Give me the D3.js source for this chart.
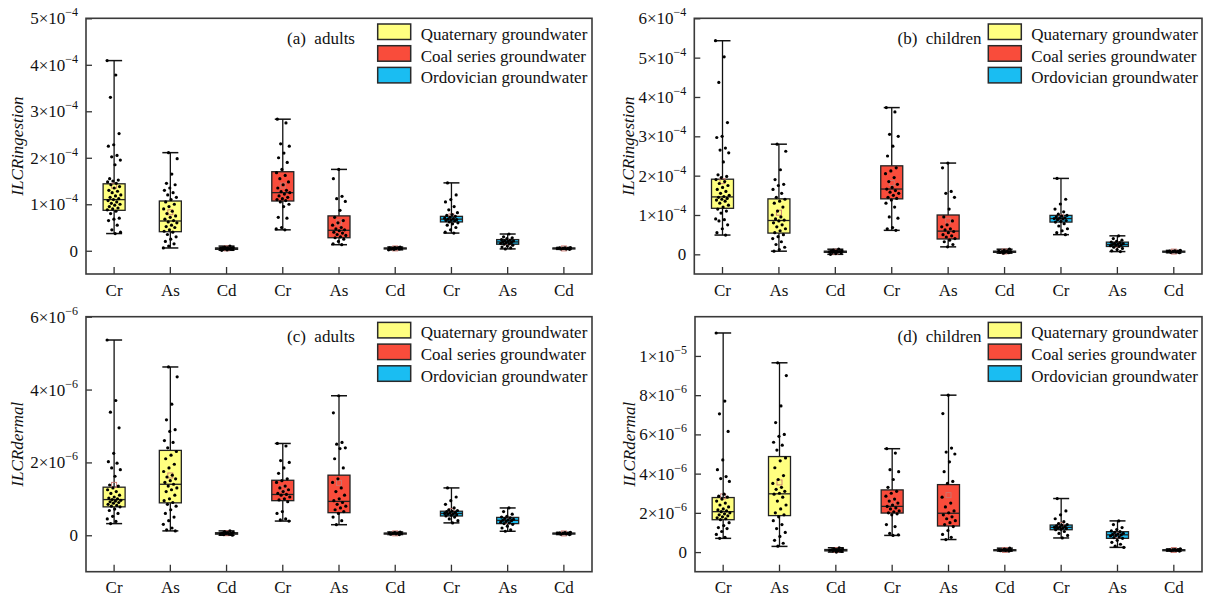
<!DOCTYPE html>
<html><head><meta charset="utf-8">
<script src="https://cdn.jsdelivr.net/npm/d3@7"></script>
<style>
html,body{margin:0;padding:0;background:#fff;}
text{font-family:"Liberation Serif","Times New Roman",serif;fill:#111;}
</style></head>
<body><svg id="chart" width="1209" height="597"></svg>
<script>
// ---------- shared data ----------
const categories = ["Cr","As","Cd","Cr","As","Cd","Cr","As","Cd"];
const groups = ["Quaternary groundwater","Coal series groundwater","Ordovician groundwater"];
const groupColors = ["#FFFF80","#F94C3B","#1ABDF2"];

// ---------- panel (a) adults ingestion, units 1e-4 ----------
const aUnit = 1e-4;
const aTicks = [0,1,2,3,4,5];
const aTickLabels = ["0","1×10^−4","2×10^−4","3×10^−4","4×10^−4","5×10^−4"];
const aDomain = [-0.5,5];
const aLow  = [0.37,0.06,0.01,0.45,0.13,0.02,0.38,0.04,0.03];
const aQ1   = [0.87,0.41,0.03,1.07,0.28,0.04,0.62,0.14,0.04];
const aMed  = [1.10,0.64,0.05,1.25,0.44,0.05,0.68,0.19,0.05];
const aQ3   = [1.44,1.07,0.06,1.70,0.75,0.06,0.74,0.24,0.06];
const aHigh = [4.09,2.11,0.10,2.83,1.75,0.08,1.46,0.36,0.07];
const aPoints = [
 [4.09,3.78,3.30,2.52,2.28,2.25,2.05,2.02,1.95,1.85,1.55,1.52,1.5,1.48,1.45,1.42,1.38,1.35,1.3,1.28,1.25,1.2,1.18,1.15,1.12,1.1,1.08,1.05,1.02,1.0,0.98,0.95,0.92,0.9,0.88,0.85,0.8,0.7,0.68,0.65,0.55,0.45,0.4,0.37],
 [2.11,1.98,1.65,1.45,1.42,1.35,1.3,1.25,1.2,1.15,1.1,1.05,1.0,0.95,0.9,0.85,0.8,0.75,0.72,0.68,0.65,0.62,0.6,0.55,0.52,0.5,0.45,0.42,0.4,0.35,0.3,0.25,0.2,0.15,0.1,0.06],
 [0.1,0.08,0.07,0.06,0.06,0.05,0.05,0.05,0.04,0.04,0.03,0.02,0.01],
 [2.83,2.75,2.3,2.25,2.1,2.0,1.9,1.75,1.68,1.62,1.55,1.48,1.42,1.35,1.3,1.27,1.25,1.22,1.18,1.15,1.12,1.1,1.08,1.05,1.0,0.95,0.72,0.7,0.5,0.47,0.45],
 [1.75,1.55,1.17,1.12,1.06,0.87,0.72,0.65,0.6,0.55,0.5,0.47,0.45,0.43,0.4,0.38,0.35,0.33,0.3,0.28,0.25,0.2,0.15,0.13],
 [0.08,0.07,0.06,0.06,0.05,0.05,0.05,0.04,0.04,0.03,0.02],
 [1.46,1.2,1.1,1.05,0.95,0.88,0.82,0.78,0.76,0.74,0.72,0.7,0.69,0.68,0.67,0.66,0.65,0.64,0.62,0.6,0.58,0.55,0.5,0.45,0.4,0.38],
 [0.36,0.3,0.28,0.26,0.24,0.23,0.22,0.21,0.2,0.19,0.18,0.17,0.16,0.15,0.14,0.12,0.1,0.08,0.06,0.04],
 [0.07,0.06,0.06,0.05,0.05,0.05,0.04,0.04,0.03]
];

// ---------- panel (b) children ingestion, units 1e-4 ----------
const bUnit = 1e-4;
const bTicks = [0,1,2,3,4,5,6];
const bTickLabels = ["0","1×10^−4","2×10^−4","3×10^−4","4×10^−4","5×10^−4","6×10^−4"];
const bDomain = [-0.5,6];
const bLow  = [0.49,0.08,0.00,0.61,0.19,0.03,0.50,0.07,0.04];
const bQ1   = [1.17,0.54,0.05,1.41,0.39,0.05,0.82,0.20,0.06];
const bMed  = [1.46,0.86,0.07,1.66,0.59,0.07,0.91,0.25,0.07];
const bQ3   = [1.91,1.41,0.08,2.25,1.00,0.08,0.99,0.31,0.08];
const bHigh = [5.43,2.80,0.13,3.73,2.32,0.13,1.93,0.47,0.10];
const bPoints = [
 [5.43,5.02,4.37,3.35,3.0,2.97,2.7,2.65,2.58,2.35,2.02,1.98,1.95,1.9,1.85,1.8,1.75,1.7,1.65,1.6,1.55,1.5,1.47,1.45,1.42,1.4,1.38,1.35,1.3,1.25,1.2,1.15,1.1,1.05,0.9,0.88,0.85,0.75,0.65,0.55,0.49],
 [2.80,2.62,2.15,1.9,1.78,1.75,1.65,1.55,1.45,1.4,1.35,1.3,1.2,1.1,1.0,0.95,0.9,0.87,0.85,0.8,0.75,0.7,0.65,0.6,0.55,0.5,0.45,0.4,0.32,0.25,0.18,0.12,0.08],
 [0.13,0.11,0.09,0.08,0.08,0.07,0.07,0.06,0.06,0.05,0.04,0.02,0.0],
 [3.73,3.62,3.05,3.0,2.75,2.5,2.2,2.12,2.05,1.95,1.85,1.78,1.7,1.66,1.62,1.58,1.55,1.5,1.45,1.42,1.38,1.3,1.2,0.95,0.92,0.68,0.65,0.61],
 [2.32,2.2,1.6,1.55,1.45,1.15,0.95,0.85,0.75,0.7,0.65,0.62,0.58,0.55,0.5,0.47,0.44,0.4,0.36,0.32,0.25,0.19],
 [0.13,0.1,0.08,0.08,0.07,0.07,0.06,0.05,0.04,0.03],
 [1.93,1.4,1.28,1.15,1.08,1.02,0.99,0.97,0.95,0.93,0.92,0.91,0.9,0.88,0.86,0.84,0.82,0.78,0.72,0.65,0.6,0.55,0.5],
 [0.47,0.4,0.36,0.33,0.31,0.3,0.28,0.27,0.26,0.25,0.24,0.23,0.22,0.2,0.18,0.15,0.12,0.09,0.07],
 [0.1,0.09,0.08,0.07,0.07,0.07,0.06,0.05,0.04]
];

// ---------- panel (c) adults dermal, units 1e-6 ----------
const cUnit = 1e-6;
const cTicks = [0,2,4,6];
const cTickLabels = ["0","2×10^−6","4×10^−6","6×10^−6"];
const cDomain = [-1,6];
const cLow  = [0.32,0.12,0.00,0.39,0.29,0.02,0.34,0.11,0.02];
const cQ1   = [0.78,0.89,0.03,0.95,0.62,0.04,0.53,0.32,0.04];
const cMed  = [0.98,1.40,0.05,1.12,0.93,0.05,0.60,0.41,0.05];
const cQ3   = [1.32,2.33,0.07,1.51,1.65,0.06,0.66,0.49,0.06];
const cHigh = [5.36,4.62,0.12,2.52,3.83,0.09,1.30,0.75,0.08];
const cPoints = [
 [5.36,3.7,3.38,2.95,2.25,2.02,1.98,1.85,1.8,1.62,1.38,1.35,1.3,1.25,1.2,1.15,1.1,1.05,1.02,1.0,0.98,0.96,0.94,0.92,0.9,0.88,0.85,0.82,0.8,0.78,0.72,0.68,0.6,0.52,0.45,0.38,0.32],
 [4.62,4.35,3.6,3.17,2.9,2.85,2.6,2.55,2.4,2.3,2.2,2.1,1.95,1.85,1.75,1.65,1.6,1.55,1.5,1.45,1.4,1.35,1.3,1.25,1.2,1.1,1.0,0.95,0.9,0.85,0.8,0.7,0.6,0.5,0.4,0.3,0.2,0.15,0.12],
 [0.12,0.1,0.08,0.07,0.06,0.05,0.05,0.04,0.03,0.02,0.0],
 [2.52,2.45,2.05,2.0,1.85,1.7,1.55,1.5,1.45,1.35,1.3,1.25,1.2,1.15,1.12,1.1,1.05,1.0,0.97,0.92,0.65,0.6,0.45,0.42,0.39],
 [3.83,3.36,2.55,2.5,2.4,2.38,2.1,1.85,1.55,1.45,1.3,1.2,1.1,1.0,0.95,0.9,0.85,0.8,0.75,0.7,0.65,0.6,0.5,0.4,0.29],
 [0.09,0.07,0.06,0.06,0.05,0.05,0.04,0.03,0.02],
 [1.3,1.05,0.95,0.85,0.75,0.7,0.68,0.66,0.65,0.63,0.62,0.6,0.59,0.58,0.56,0.55,0.53,0.5,0.45,0.4,0.34],
 [0.75,0.65,0.58,0.52,0.5,0.48,0.46,0.44,0.42,0.41,0.4,0.38,0.36,0.34,0.32,0.3,0.25,0.2,0.15,0.11],
 [0.08,0.07,0.06,0.05,0.05,0.05,0.04,0.03,0.02]
];

// ---------- panel (d) children dermal, units 1e-6 ----------
const dUnit = 1e-6;
const dTicks = [0,2,4,6,8,10];
const dTickLabels = ["0","2×10^−6","4×10^−6","6×10^−6","8×10^−6","1×10^−5"];
const dDomain = [-1,12];
const dLow  = [0.70,0.29,0.00,0.85,0.64,0.05,0.72,0.24,0.05];
const dQ1   = [1.65,1.86,0.06,1.99,1.33,0.08,1.14,0.70,0.08];
const dMed  = [2.06,2.97,0.10,2.33,1.98,0.10,1.26,0.88,0.10];
const dQ3   = [2.78,4.87,0.13,3.17,3.44,0.12,1.38,1.04,0.12];
const dHigh = [11.17,9.65,0.22,5.27,8.00,0.20,2.73,1.59,0.16];
const dPoints = [
 [11.17,7.7,7.05,6.15,4.7,4.2,3.85,3.75,3.6,2.95,2.85,2.8,2.7,2.6,2.5,2.4,2.3,2.2,2.15,2.1,2.06,2.0,1.95,1.9,1.85,1.8,1.75,1.7,1.65,1.5,1.35,1.25,1.2,1.05,0.9,0.75,0.7],
 [9.65,9.0,7.45,6.6,6.0,5.9,5.6,5.45,5.2,4.8,4.65,4.3,3.9,3.7,3.5,3.3,3.2,3.1,3.0,2.95,2.8,2.6,2.4,2.2,2.0,1.9,1.8,1.6,1.4,1.2,1.0,0.8,0.6,0.45,0.3],
 [0.22,0.18,0.15,0.13,0.12,0.1,0.1,0.09,0.07,0.05,0.03,0.0],
 [5.27,5.05,4.2,4.1,3.7,3.3,3.1,3.0,2.85,2.7,2.6,2.5,2.4,2.33,2.25,2.2,2.1,2.05,2.0,1.95,1.9,1.4,1.3,0.95,0.88,0.85],
 [8.0,7.06,5.3,5.1,5.0,4.6,4.1,3.6,3.5,2.8,2.5,2.3,2.1,2.0,1.9,1.8,1.7,1.6,1.5,1.4,1.3,1.1,0.9,0.75,0.64],
 [0.2,0.15,0.12,0.11,0.1,0.1,0.09,0.07,0.05],
 [2.73,2.1,1.9,1.7,1.55,1.45,1.4,1.37,1.34,1.3,1.28,1.26,1.24,1.22,1.2,1.17,1.14,1.05,0.95,0.85,0.72],
 [1.59,1.4,1.25,1.15,1.08,1.04,1.0,0.96,0.92,0.9,0.88,0.85,0.82,0.78,0.74,0.7,0.6,0.5,0.4,0.3,0.24],
 [0.16,0.13,0.12,0.11,0.1,0.1,0.09,0.07,0.05]
];

const panels = [
 {tag:"(a)", who:"adults",   yTitle:"ILCRingestion", box:{l:86,r:592,t:18.3,b:274}, titleX:17,
  ticks:aTicks, tickLabels:aTickLabels, domain:aDomain, low:aLow,q1:aQ1,med:aMed,q3:aQ3,high:aHigh,pts:aPoints, labelX:287, legX:377.7},
 {tag:"(b)", who:"children", yTitle:"ILCRingestion", box:{l:694.3,r:1202,t:18.3,b:274}, titleX:628,
  ticks:bTicks, tickLabels:bTickLabels, domain:bDomain, low:bLow,q1:bQ1,med:bMed,q3:bQ3,high:bHigh,pts:bPoints, labelX:897.5, legX:988.3},
 {tag:"(c)", who:"adults",   yTitle:"ILCRdermal", box:{l:86,r:592,t:316.7,b:571.7}, titleX:17,
  ticks:cTicks, tickLabels:cTickLabels, domain:cDomain, low:cLow,q1:cQ1,med:cMed,q3:cQ3,high:cHigh,pts:cPoints, labelX:287, legX:377.7},
 {tag:"(d)", who:"children", yTitle:"ILCRdermal", box:{l:695,r:1202,t:316.7,b:571.7}, titleX:629,
  ticks:dTicks, tickLabels:dTickLabels, domain:dDomain, low:dLow,q1:dQ1,med:dMed,q3:dQ3,high:dHigh,pts:dPoints, labelX:897.5, legX:988.3}
];

const svg = d3.select("#chart");
svg.append("rect").attr("width",1209).attr("height",597).attr("fill","#fff");
const FS = 17;

panels.forEach(p => {
  const B = p.box;
  const g = svg.append("g");
  const x = d3.scaleBand().domain(d3.range(categories.length)).range([B.l,B.r]).padding(0);
  const y = d3.scaleLinear().domain(p.domain).range([B.b,B.t]);
  const cx = i => x(i) + x.bandwidth()/2;
  const bw = 22, cap = 16;

  // y ticks (inward)
  const ya = g.append("g").attr("transform",`translate(${B.l},0)`)
    .call(d3.axisLeft(y).tickValues(p.ticks).tickSizeInner(-6).tickSizeOuter(0).tickFormat(""));
  ya.select(".domain").remove();
  ya.selectAll(".tick line").attr("stroke","#333").attr("stroke-width",1.3);
  // y tick labels with superscripts
  p.ticks.forEach((v,i) => {
    const parts = p.tickLabels[i].split("^");
    const t = g.append("text").attr("x",B.l-8).attr("y",y(v)+6).attr("text-anchor","end").attr("font-size",FS);
    t.append("tspan").text(parts[0]);
    if (parts[1]) t.append("tspan").attr("dy",-8).attr("font-size",12).text(parts[1]);
  });

  // x ticks (inward)
  const xa = g.append("g").attr("transform",`translate(0,${B.b})`)
    .call(d3.axisBottom(x).tickSizeInner(-7).tickSizeOuter(0).tickPadding(9.5).tickFormat(i => categories[i]));
  xa.select(".domain").remove();
  xa.selectAll(".tick line").attr("stroke","#333").attr("stroke-width",1.3);
  xa.selectAll(".tick text").attr("font-size",FS).attr("font-family","Liberation Serif, Times New Roman, serif").attr("fill","#111").attr("dy","0.71em");

  // y title
  g.append("text").attr("transform",`translate(${p.titleX+6},${(B.t+B.b)/2}) rotate(-90)`)
    .attr("text-anchor","middle").attr("font-size",FS).attr("font-style","italic").attr("fill","#333").text(p.yTitle);

  // boxes
  categories.forEach((c,i) => {
    const col = groupColors[Math.floor(i/3)];
    const X = cx(i);
    g.append("line").attr("x1",X).attr("x2",X).attr("y1",y(p.low[i])).attr("y2",y(p.high[i])).attr("stroke","#111").attr("stroke-width",1.3);
    [p.low[i],p.high[i]].forEach(v => g.append("line").attr("x1",X-cap/2).attr("x2",X+cap/2).attr("y1",y(v)).attr("y2",y(v)).attr("stroke","#111").attr("stroke-width",1.5));
    g.append("rect").attr("x",X-bw/2).attr("width",bw).attr("y",y(p.q3[i])).attr("height",Math.max(1,y(p.q1[i])-y(p.q3[i])))
      .attr("fill",col).attr("stroke","#222").attr("stroke-width",1.3);
    g.append("line").attr("x1",X-bw/2).attr("x2",X+bw/2).attr("y1",y(p.med[i])).attr("y2",y(p.med[i])).attr("stroke","#222").attr("stroke-width",1.3);
    const m = d3.mean(p.pts[i]);
    g.append("rect").attr("x",X-2.5).attr("y",y(m)-2.5).attr("width",5).attr("height",5).attr("fill","none").attr("stroke","#c9776f").attr("stroke-width",0.9);
    // jittered points
    g.selectAll(null).data(p.pts[i]).enter().append("circle")
      .attr("cx",(d,k) => X + (((k*0.6180339887 + i*0.37) % 1) - 0.5)*14)
      .attr("cy",d => y(d)).attr("r",1.6).attr("fill","#000");
  });

  // frame
  g.append("rect").attr("x",B.l).attr("y",B.t).attr("width",B.r-B.l).attr("height",B.b-B.t)
    .attr("fill","none").attr("stroke","#3a3a3a").attr("stroke-width",1.6);

  // panel label
  g.append("text").attr("x",p.labelX).attr("y",B.t+25.7).attr("font-size",FS).attr("xml:space","preserve")
    .style("white-space","pre").text(p.tag + "  " + p.who);

  // legend
  groups.forEach((name,k) => {
    const yy = B.t + 5.7 + k*21.7;
    g.append("rect").attr("x",p.legX).attr("y",yy).attr("width",33).attr("height",15.5)
      .attr("fill",groupColors[k]).attr("stroke","#2a2a2a").attr("stroke-width",1.5);
    g.append("text").attr("x",p.legX+43).attr("y",yy+16).attr("font-size",FS).text(name);
  });
});
</script></body></html>
